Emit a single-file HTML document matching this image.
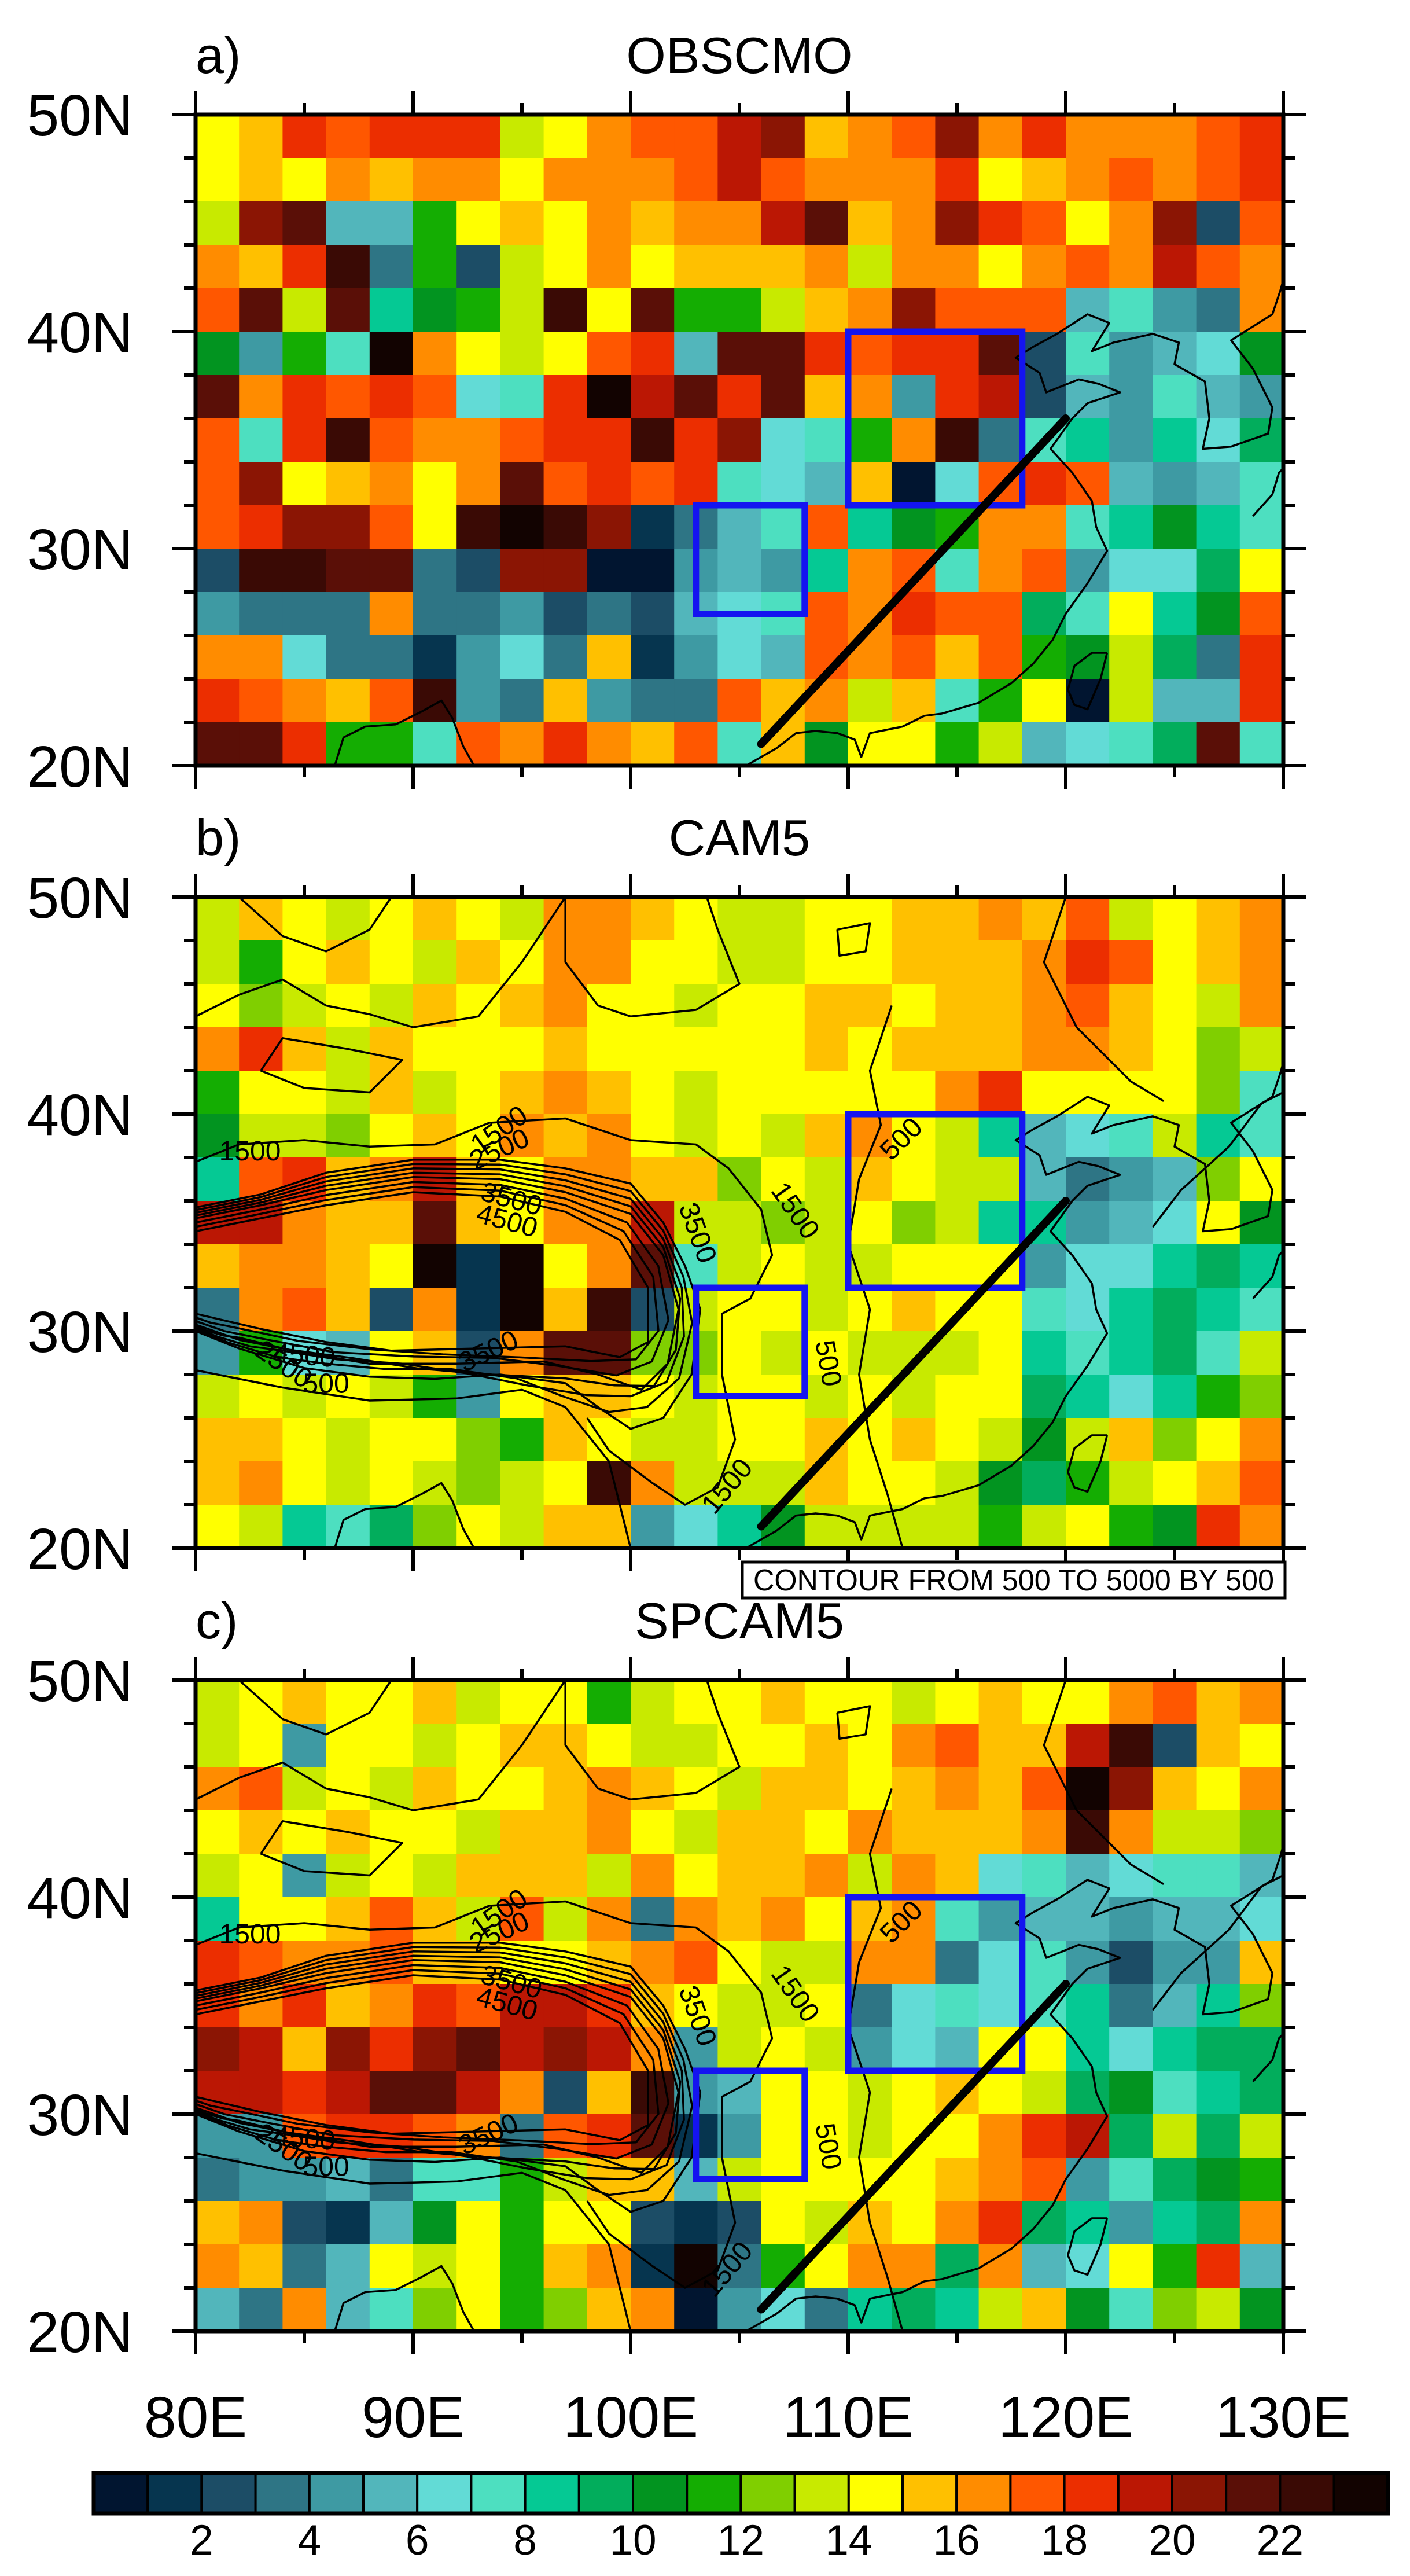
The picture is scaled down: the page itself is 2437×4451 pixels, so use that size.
<!DOCTYPE html>
<html><head><meta charset="utf-8">
<style>
html,body{margin:0;padding:0;background:#fff;}
svg{display:block;font-family:"Liberation Sans",Arial,sans-serif;}
</style></head>
<body>
<svg id="fig" width="2437" height="4451" viewBox="0 0 2437 4451" xmlns="http://www.w3.org/2000/svg">
<rect x="0" y="0" width="2437" height="4451" fill="#fff"/>
</svg>
<script>
// ---- data ----
const palette = ["#011530","#06354f","#1c4d66","#2e7585","#3e9aa3","#52b6bb","#62dbd6","#4ddfc0","#05c994","#02ad5c","#029420","#14ad02","#80cf00","#c8ea00","#ffff00","#ffc000","#ff8c00","#ff5700","#ec2e00","#bb1704","#8b1504","#5a0f07","#3a0a05","#120301"];
const cbLabels = ["2","4","6","8","10","12","14","16","18","20","22"];
const lonTicks = [80,90,100,110,120,130];
const lonLabels = ["80E","90E","100E","110E","120E","130E"];
const latTicks = [20,30,40,50];
const latLabels = ["20N","30N","40N","50N"];
const panelTitles = ["OBSCMO","CAM5","SPCAM5"];
const panelLetters = ["a)","b)","c)"];
// 2-degree cells, rows from 50N down to 20N, columns 80E to 130E; letters a..x = colour index 0..23
const gridA = [
"opsrsssnoqrrtupqruqsqqqrs",
"opoqpqqoqqqrtrqqqsopqrqrs",
"nuvfflopoqpqqtvpqusroqucr",
"qpswdlcnoqopppqnqqoqrqtrq",
"rvnviklnwovllnpqurrrfhedq",
"kelhxqonorsfvvsrssvchefgk",
"vqsrsrghsxtvsvpqestcfehfe",
"rhswrqqrsswsughlqwdhieigj",
"ruopqoqvrsrshgfpagrsrfefh",
"rsuurowxwubdfhriklqqhikih",
"cwwvvdcuuaaefeiqrhqreggjo",
"edddqddecdcfghrqsrrjhoikr",
"qqgddbegdpbegfrqrprlknjds",
"srqprwedpeddrpqnphloanffs",
"vvsllhrqsqprhpkoolnfghjvh"];
const gridB = [
"nponoponqqponnooppqprnopq",
"nloponpoqqoonnoopppqsropq",
"omnonpopqoonooppoppqrponq",
"qspnpooopooooopopppqqpomn",
"loonpnopqponoooooqsoooomh",
"knnmopoqpqononpqonifghnih",
"irspqtpoqqppmonponnfdefmo",
"ttqppvpoqqtnnmnomniiefgok",
"pqqpoxbxoqvhnonnoooeggiji",
"dqrpcqbxpwcnoonopoohgijih",
"elgfopcqvvmmononnnoihijhn",
"nononleopponoononoojigilm",
"pponoomlponnoopoponknpmoq",
"pqononmnowqnnnpoonkjlnopr",
"onihjmonppegiknnnnlnolksq"];
const gridC = [
"nopoopnoolnoopoonopooqrpq",
"noeoonopponnoopoqrpptwcpo",
"qrnonpoopqponppopqprxupoq",
"opopoonppqonppoqpppqwqnnm",
"noenonpppnqoppqnqpghfghhf",
"iooprpnrnqdqpqopqheffeffg",
"srqqrppoopqronnqqdgheceep",
"sqspqsrttsponnodghghidfim",
"utpusuvtutqenonegfooigijj",
"ttstvvtqcpwefoonoponjkhij",
"eerssrqdrsvbeoonooqstjnjn",
"deefdhhlnppfnoooopqrehjkl",
"pqcbfkoloocbconpoqsjieijq",
"qpdfonolpqbxdloqqjqfgolsf",
"fdqfhmolmpqaegdijinpkhmnk"];
const grids = [gridA, gridB, gridC];
// boxes [lon0,lat0,lon1,lat1]
const boxNorth = [110,32,118,40];
const boxSouth = [103,27,108,32];
const sectionLine = [[106,21],[120,36]];
// coastlines (lon,lat)
const coastChina = [[105.3,20],[106.7,20.8],[107.6,21.5],[108.5,21.6],[109.5,21.5],[110.3,21.2],[110.6,20.4],[111,21.5],[112.5,21.8],[113.5,22.3],[114.3,22.4],[116,22.9],[117.5,23.8],[118.5,24.7],[119.4,25.8],[120,27],[121,28.4],[121.9,29.9],[121.4,31],[121.2,32.2],[120.3,33.5],[119.3,34.6],[120.3,36],[121,36.7],[122.5,37.2],[121.5,37.6],[120.6,37.8],[119.1,37.2],[118.8,38.1],[117.7,38.8],[118.5,39.3],[119.6,39.9],[121,40.8],[122,40.4],[121.2,39.1],[122.2,39.5],[124,39.9],[125.2,39.5],[125,38.5],[126.4,37.7],[126.6,36],[126.3,34.6],[127.6,34.7],[129.3,35.3],[129.5,36.5],[128.6,38.3],[127.6,39.6],[129.5,40.8],[129.9,42],[130,42.4]];
const coastTaiwan = [[121.9,25.2],[121.6,24],[121,22.6],[120.4,22.8],[120.1,23.5],[120.4,24.6],[121.2,25.2],[121.9,25.2]];
const coastBengal = [[86.4,20],[86.8,21.3],[87.8,21.8],[89.2,21.9],[90.4,22.5],[91.3,23],[91.8,22.2],[92.3,20.9],[92.8,20]];
const coastJapan = [[128.6,31.5],[129.5,32.5],[129.8,33.5],[130,33.7]];
// topography contours (panels b,c)
const contourLevels = ["500","1500","2500","3000","3500","4000","4500"];
const cont500E = [[112,45],[111,42],[111.5,39.5],[110.5,37],[110,34],[111,31],[110.5,28],[111,25],[111.8,22.5],[112.5,20]];
const cont500S = [[80,28.2],[84,27.4],[88,26.8],[92,26.9],[95,27.3],[97,26.5],[99,24],[100,20]];
const cont1500 = [[80,37.8],[82,38.6],[85,38.8],[88,38.5],[91,38.6],[93.5,39.6],[97,39.8],[100,38.8],[103,38.6],[104.5,37.5],[106,35.6],[106.5,33.5],[105.5,31.5],[104.2,30.8],[104.2,28],[104.8,25],[104,22.8],[102.5,22],[101,23],[99,24.5],[98,26]];
const cont2500 = [[80,35.7],[83,36.3],[86,37.3],[90,37.9],[94,37.9],[97,37.5],[100,36.8],[101.5,35],[102.5,33],[103.2,31],[102.8,28],[101.5,26],[100,25.5],[98.5,26.5],[97,27.6],[94,28],[91,27.8],[88,27.9],[85,28.3],[82,29.2],[80,30]];
const cont3500 = [[80,35.2],[83,35.8],[86,36.5],[90,37.1],[94,37],[97,36.4],[100,35.4],[101.5,33.5],[102.2,31],[101.7,28.5],[100.5,27.3],[98.5,28],[96,28.6],[92,28.5],[88,28.5],[85,29],[82,29.6],[80,30.3]];
const cont4500 = [[80,34.6],[83,35.2],[86,35.8],[90,36.4],[94,36.2],[97,35.5],[99.5,34.2],[100.8,32],[100.8,29.5],[99.5,28.8],[97,29.3],[93,29.2],[89,29.1],[86,29.5],[83,30.1],[80,30.8]];
const contN1 = [[80,44.5],[82,45.5],[84,46.2],[86,45],[88,44.6],[90,44],[93,44.5],[95,47],[97,50]];
const contN2 = [[82,50],[84,48.2],[86,47.5],[88,48.5],[89,50]];
const contN3 = [[97,50],[97,47],[98.5,45],[100,44.5],[103,44.8],[105,46],[104,48.5],[103.5,50]];
const contN4 = [[109.5,48.5],[111,48.8],[110.8,47.5],[109.6,47.3],[109.5,48.5]];
const contN5 = [[120,50],[119,47],[120.5,44],[123,41.5],[124.5,40.6]];
const contN6 = [[124,34.8],[125.3,36.5],[127.5,38.5],[129,40.5],[130,41]];
const contN7 = [[83,42],[84,43.5],[87,43],[89.5,42.5],[88,41],[85,41.2],[83,42]];
const contLabels = [["1500",82.5,38.2,0],["1500",94,39.2,-35],["2500",94,38.3,-25],["3500",94.5,36,15],["4500",94.3,35,15],["1500",107.5,35.5,55],["3500",103,34.5,70],["500",112.5,38.8,-45],["4500",85,28.8,5],["3500",93.5,29,-25],["2500",84,28.4,35],["500",86,27.5,0],["500",109,28.5,80],["1500",104.5,22.8,-50]];
// ---- geometry ----
const X0=338, XW=37.6, YS=37.5;
const panelTops=[198,1550,2903];
function lonX(lon){return X0+(lon-80)*XW;}
function latY(lat,top){return top+(50-lat)*YS;}
const svg=document.getElementById('fig');
const NS="http://www.w3.org/2000/svg";
function mk(tag,attrs,parent){const e=document.createElementNS(NS,tag);for(const k in attrs)e.setAttribute(k,attrs[k]);(parent||svg).appendChild(e);return e;}
function poly(pts,top){return pts.map(p=>lonX(p[0]).toFixed(1)+','+latY(p[1],top).toFixed(1)).join(' ');}

panelTops.forEach((top,pi)=>{
  const g=mk('g',{});
  
  
  const clipId='clip'+pi;
  const cp=mk('clipPath',{id:clipId},g);
  mk('rect',{x:lonX(80),y:latY(50,top),width:lonX(130)-lonX(80),height:latY(20,top)-latY(50,top)},cp);
  const hm=mk('g',{'clip-path':'url(#'+clipId+')'},g);
  
  
  const grid=grids[pi];
  grid.forEach((row,ri)=>{
    for(let ci=0;ci<row.length;ci++){
      const v=row.charCodeAt(ci)-97;
      const lon=80+ci*2, lat=50-ri*2;
      const r=mk('rect',{x:lonX(lon),y:latY(lat,top),width:XW*2+0.6,height:YS*2+0.6,fill:palette[v]},hm);
      
      
    }
  });
  const lines=mk('g',{'clip-path':'url(#'+clipId+')',fill:'none',stroke:'#000','stroke-width':3.5,'stroke-linejoin':'round'},g);
  [coastChina,coastTaiwan,coastBengal,coastJapan].forEach(c=>{
    const p=mk('polyline',{points:poly(c,top)},lines);
    
    
  });
  if(pi>0){
    [cont500E,cont500S,cont1500,cont2500,cont3500,cont4500,contN1,contN2,contN3,contN4,contN5,contN6,contN7].forEach(c=>{
      const p=mk('polyline',{points:poly(c,top)},lines);
      
      
    });
    // extra dense lines between
    [0.25,0.5,0.75].forEach(f=>{
      const pts=cont2500.map((p,i)=>{const q=cont3500[Math.min(i,cont3500.length-1)];return [p[0]+(q[0]-p[0])*f,p[1]+(q[1]-p[1])*f];});
      const p=mk('polyline',{points:poly(pts,top)},lines);
      
      
    });
    [0.33,0.66].forEach(f=>{
      const pts=cont3500.map((p,i)=>{const q=cont4500[Math.min(i,cont4500.length-1)];return [p[0]+(q[0]-p[0])*f,p[1]+(q[1]-p[1])*f];});
      const p=mk('polyline',{points:poly(pts,top)},lines);
      
      
    });
    contLabels.forEach(l=>{
      const x=lonX(l[1]),y=latY(l[2],top);
      const t=mk('text',{x:x,y:y,'font-size':48,'text-anchor':'middle','dominant-baseline':'middle',transform:'rotate('+l[3]+' '+x+' '+y+')',fill:'#000',stroke:'none'},g);
      t.textContent=l[0];
      
      
    });
  }
  // boxes and line
  [boxNorth,boxSouth].forEach((b,bi)=>{
    const r=mk('rect',{x:lonX(b[0]),y:latY(b[3],top),width:lonX(b[2])-lonX(b[0]),height:latY(b[1],top)-latY(b[3],top),fill:'none',stroke:'#1414f0','stroke-width':11},g);
    
    
  });
  const sl=mk('line',{x1:lonX(sectionLine[0][0]),y1:latY(sectionLine[0][1],top),x2:lonX(sectionLine[1][0]),y2:latY(sectionLine[1][1],top),stroke:'#000','stroke-width':14,'stroke-linecap':'round'},g);
  
  
  // frame & ticks
  const L=lonX(80),R=lonX(130),T=latY(50,top),B=latY(20,top);
  const fr=mk('rect',{x:L,y:T,width:R-L,height:B-T,fill:'none',stroke:'#000','stroke-width':7},g);
  
  
  const tk=mk('g',{stroke:'#000','stroke-width':6},g);
  
  
  for(let lon=80;lon<=130;lon+=5){
    const len=lon%10===0?40:20,x=lonX(lon);
    mk('line',{x1:x,y1:T,x2:x,y2:T-len},tk);
    mk('line',{x1:x,y1:B,x2:x,y2:B+len},tk);
  }
  for(let lat=20;lat<=50;lat+=2){
    const len=lat%10===0?40:20,y=latY(lat,top);
    mk('line',{x1:L,y1:y,x2:L-len,y2:y},tk);
    mk('line',{x1:R,y1:y,x2:R+len,y2:y},tk);
  }
  latTicks.forEach((lat,i)=>{
    const t=mk('text',{x:230,y:latY(lat,top)+36,'font-size':100,'text-anchor':'end'},g);
    t.textContent=latLabels[i];
    
    
  });
  const lt=mk('text',{x:338,y:top-72,'font-size':88},g);
  lt.textContent=panelLetters[pi];
  
  
  const tt=mk('text',{x:(L+R)/2,y:top-72,'font-size':88,'text-anchor':'middle'},g);
  tt.textContent=panelTitles[pi];
  
  
});
// contour info box
const ib=mk('g',{});


mk('rect',{x:1283,y:2699,width:938,height:62,fill:'#fff',stroke:'#000','stroke-width':5},ib);
const it=mk('text',{x:1752,y:2748,'font-size':52,'text-anchor':'middle',textLength:900,lengthAdjust:'spacingAndGlyphs'},ib);
it.textContent="CONTOUR FROM 500 TO 5000 BY 500";
// x labels
lonTicks.forEach((lon,i)=>{
  const t=mk('text',{x:lonX(lon),y:4211,'font-size':100,'text-anchor':'middle'});
  t.textContent=lonLabels[i];
  
  
});
// colorbar
const cb=mk('g',{});


const CBL=162,CBW=93.2,CBT=4273,CBH=70;
palette.forEach((c,i)=>{
  const r=mk('rect',{x:CBL+i*CBW,y:CBT,width:CBW,height:CBH,fill:c,stroke:'#000','stroke-width':4},cb);
  
  
});
mk('rect',{x:CBL,y:CBT,width:CBW*palette.length,height:CBH,fill:'none',stroke:'#000','stroke-width':7},cb);
cbLabels.forEach((l,i)=>{
  const t=mk('text',{x:CBL+(2+2*i)*CBW,y:4414,'font-size':73,'text-anchor':'middle'},cb);
  t.textContent=l;
  
  
});
</script>
</body></html>
